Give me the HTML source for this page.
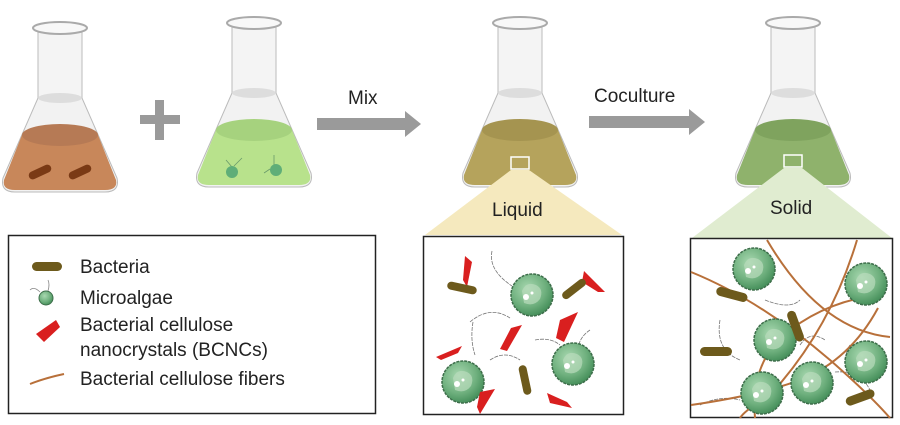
<!DOCTYPE html>
<html><head><meta charset="utf-8"><style>
body{margin:0;background:#fff}
svg{display:block}
text{font-family:"Liberation Sans",sans-serif;fill:#222}
</style></head><body>
<svg width="900" height="425" viewBox="0 0 900 425" xmlns="http://www.w3.org/2000/svg">
<defs>
<radialGradient id="alg" cx="0.4" cy="0.35" r="0.7">
<stop offset="0" stop-color="#a8d8b0"/><stop offset="0.6" stop-color="#6fb07e"/><stop offset="1" stop-color="#3f8a55"/>
</radialGradient>
<g id="cell"><circle r="21" fill="url(#alg)" stroke="#3d6e4a" stroke-width="1.5" stroke-dasharray="3 1"/><path d="M-10,-4 Q-6,-14 4,-10 Q12,-6 8,4 Q2,12 -8,8 Z" fill="#b9dcbc" opacity="0.7"/><circle cx="-6" cy="2" r="3" fill="#fff"/><circle cx="0" cy="-2" r="1.5" fill="#fff"/></g>
</defs>

<g transform="translate(60,20)">
<path d="M-22,78 L-57,158 Q-60,172 -45,172 L45,172 Q60,172 57,158 L22,78 Z" fill="#f2f2f2" stroke="#bbb"/>
<path d="M-38,115 L-56,160 Q-58,170 -45,170 L45,170 Q58,170 56,160 L38,115 Z" fill="#c8875a"/>
<ellipse cx="0" cy="115" rx="38" ry="11" fill="#b67a55"/>
<rect x="-22" y="8" width="44" height="70" fill="#f4f4f4" stroke="#bbb"/>
<ellipse cx="0" cy="78" rx="22" ry="5" fill="#ddd"/>
<ellipse cx="0" cy="8" rx="27" ry="6" fill="#f8f8f8" stroke="#aaa" stroke-width="2"/>
<rect x="-32" y="148" width="24" height="8" rx="4" fill="#7a3a15" transform="rotate(-25 -20 152)"/>
<rect x="8" y="148" width="24" height="8" rx="4" fill="#7a3a15" transform="rotate(-25 20 152)"/>
</g>
<g transform="translate(254,15)">
<path d="M-22,78 L-57,158 Q-60,172 -45,172 L45,172 Q60,172 57,158 L22,78 Z" fill="#f2f2f2" stroke="#bbb"/>
<path d="M-38,115 L-56,160 Q-58,170 -45,170 L45,170 Q58,170 56,160 L38,115 Z" fill="#b8e28c"/>
<ellipse cx="0" cy="115" rx="38" ry="11" fill="#a6d27e"/>
<rect x="-22" y="8" width="44" height="70" fill="#f4f4f4" stroke="#bbb"/>
<ellipse cx="0" cy="78" rx="22" ry="5" fill="#ddd"/>
<ellipse cx="0" cy="8" rx="27" ry="6" fill="#f8f8f8" stroke="#aaa" stroke-width="2"/>
<path d="M-28,145 L-22,152 M-12,143 L-20,151 M20,140 L20,150 M10,158 L16,154" stroke="#6a9a6a" stroke-width="0.8"/>
<circle cx="-22" cy="157" r="6" fill="#5fae78"/><circle cx="22" cy="155" r="6" fill="#5fae78"/>
</g>
<g transform="translate(520,15)">
<path d="M-22,78 L-57,158 Q-60,172 -45,172 L45,172 Q60,172 57,158 L22,78 Z" fill="#f2f2f2" stroke="#bbb"/>
<path d="M-38,115 L-56,160 Q-58,170 -45,170 L45,170 Q58,170 56,160 L38,115 Z" fill="#b5a35c"/>
<ellipse cx="0" cy="115" rx="38" ry="11" fill="#a59450"/>
<rect x="-22" y="8" width="44" height="70" fill="#f4f4f4" stroke="#bbb"/>
<ellipse cx="0" cy="78" rx="22" ry="5" fill="#ddd"/>
<ellipse cx="0" cy="8" rx="27" ry="6" fill="#f8f8f8" stroke="#aaa" stroke-width="2"/>
<rect x="-9" y="142" width="18" height="12" fill="none" stroke="#fff" stroke-width="1.5"/>
</g>
<g transform="translate(793,15)">
<path d="M-22,78 L-57,158 Q-60,172 -45,172 L45,172 Q60,172 57,158 L22,78 Z" fill="#f2f2f2" stroke="#bbb"/>
<path d="M-38,115 L-56,160 Q-58,170 -45,170 L45,170 Q58,170 56,160 L38,115 Z" fill="#8fb26c"/>
<ellipse cx="0" cy="115" rx="38" ry="11" fill="#7fa35e"/>
<rect x="-22" y="8" width="44" height="70" fill="#f4f4f4" stroke="#bbb"/>
<ellipse cx="0" cy="78" rx="22" ry="5" fill="#ddd"/>
<ellipse cx="0" cy="8" rx="27" ry="6" fill="#f8f8f8" stroke="#aaa" stroke-width="2"/>
<rect x="-9" y="140" width="18" height="12" fill="none" stroke="#fff" stroke-width="1.5"/>
</g>

<rect x="140" y="115" width="40" height="9" fill="#9a9a9a"/><rect x="155" y="100" width="9" height="40" fill="#9a9a9a"/>
<rect x="317" y="118" width="88" height="12" fill="#9a9a9a"/><polygon points="405,111 421,124 405,137" fill="#9a9a9a"/>
<text x="348" y="104" font-size="19">Mix</text>
<rect x="589" y="116" width="100" height="12" fill="#9a9a9a"/><polygon points="689,109 705,122 689,135" fill="#9a9a9a"/>
<text x="594" y="102" font-size="19">Coculture</text>

<polygon points="511,170 529,170 622,235 425,235" fill="#f5e9be"/>
<polygon points="784,168 802,168 892,238 692,238" fill="#e0ecd0"/>
<text x="492" y="216" font-size="19">Liquid</text>
<text x="770" y="214" font-size="19">Solid</text>

<rect x="8.5" y="235.5" width="367" height="178" fill="#fff" stroke="#222" stroke-width="1.5"/>
<rect x="32" y="262" width="30" height="9" rx="4.5" fill="#6d5a1c"/>
<text x="80" y="273" font-size="19">Bacteria</text>
<circle cx="46" cy="298" r="7" fill="url(#alg)" stroke="#3d6e4a"/>
<path d="M40,292 Q34,286 30,290 M48,291 Q50,284 48,280" stroke="#888" fill="none" stroke-width="0.8"/>
<text x="80" y="304" font-size="19">Microalgae</text>
<polygon points="36,334 56,320 60,327 44,342" fill="#d91f1f"/>
<text x="80" y="331" font-size="19">Bacterial cellulose</text>
<text x="80" y="356" font-size="19">nanocrystals (BCNCs)</text>
<path d="M30,384 Q45,378 64,374" stroke="#b8703a" stroke-width="2" fill="none"/>
<text x="80" y="385" font-size="19">Bacterial cellulose fibers</text>

<rect x="423.5" y="236.5" width="200" height="178" fill="#fff" stroke="#222" stroke-width="1.5"/>
<g stroke="#777" fill="none" stroke-width="0.8" stroke-dasharray="4 1">
<path d="M492,251 Q488,270 512,286"/><path d="M470,322 Q490,305 510,318"/><path d="M473,322 Q470,340 475,355"/>
<path d="M535,340 Q550,337 560,345"/><path d="M590,330 Q575,340 578,360"/><path d="M490,360 Q505,350 520,360"/>
</g>
<use href="#cell" x="532" y="295"/>
<use href="#cell" x="573" y="364"/>
<use href="#cell" x="463" y="382"/>
<g fill="#d91f1f">
<polygon points="465,256 472,262 467,287 463,280"/><polygon points="584,271 605,292 598,292 582,282"/>
<polygon points="511,328 522,325 507,351 500,349"/><polygon points="560,320 578,312 564,342 556,338"/>
<polygon points="436,357 462,346 458,353 441,360"/><polygon points="480,392 495,389 480,414 477,407"/>
<polygon points="547,393 567,402 572,408 550,403"/>
</g>
<rect x="447" y="284" width="30" height="8" rx="4" fill="#6d5a1c" transform="rotate(12 462 288)"/>
<rect x="560" y="285" width="28" height="8" rx="4" fill="#6d5a1c" transform="rotate(-38 574 289)"/>
<rect x="510" y="376" width="30" height="8" rx="4" fill="#6d5a1c" transform="rotate(78 525 380)"/>

<rect x="690.5" y="238.5" width="202" height="179" fill="#fff" stroke="#222" stroke-width="1.5"/>
<g stroke="#777" fill="none" stroke-width="0.8" stroke-dasharray="4 1">
<path d="M765,300 Q790,310 800,300"/><path d="M720,320 Q715,350 740,360"/><path d="M850,345 Q840,360 855,375"/>
<path d="M800,345 Q810,330 825,340"/><path d="M835,372 Q860,370 870,390"/><path d="M700,405 Q720,395 740,400"/>
</g>
<g stroke="#b8703a" stroke-width="2" fill="none">
<path d="M691,272 Q760,300 830,360 Q870,395 890,418"/>
<path d="M767,240 Q820,330 890,337"/>
<path d="M857,240 Q830,330 770,395 Q745,410 740,418"/>
<path d="M691,405 Q760,395 800,380 Q850,360 878,308"/>
<path d="M755,418 Q750,360 790,330 Q830,300 880,295"/>
</g>
<use href="#cell" x="754" y="269"/>
<use href="#cell" x="866" y="284"/>
<use href="#cell" x="775" y="340"/>
<use href="#cell" x="866" y="362"/>
<use href="#cell" x="762" y="393"/>
<use href="#cell" x="812" y="383"/>
<rect x="716" y="290" width="32" height="9" rx="4.5" fill="#6d5a1c" transform="rotate(15 732 294)"/>
<rect x="780" y="322" width="32" height="9" rx="4.5" fill="#6d5a1c" transform="rotate(70 796 326)"/>
<rect x="700" y="347" width="32" height="9" rx="4.5" fill="#6d5a1c"/>
<rect x="845" y="393" width="30" height="9" rx="4.5" fill="#6d5a1c" transform="rotate(-20 860 397)"/>
</svg>
</body></html>
